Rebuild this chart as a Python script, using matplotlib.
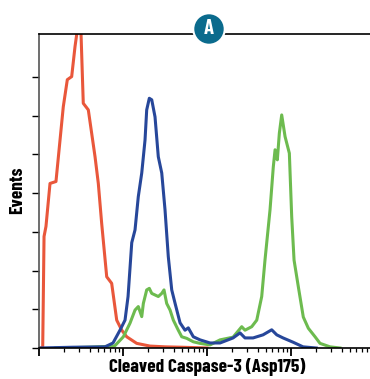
import numpy as np
import matplotlib
matplotlib.use('Agg')
import matplotlib.pyplot as plt

# 荧光强度（log10）和事件数（刻度单位）
red_x = [0.0, 0.03, 0.044, 0.060, 0.083, 0.131, 0.202, 0.289, 0.337, 0.389, 0.429, 0.468,
         0.496, 0.527, 0.587, 0.667, 0.706, 0.746, 0.806, 0.865, 0.925, 0.985, 1.044,
         1.163, 1.32, 1.5, 1.7, 2.0]
red_y = [0.0, 0.0, 0.0, 2.88, 3.14, 4.25, 4.30, 6.23, 6.93, 7.01, 7.79, 8.4,
         8.4, 6.32, 6.15, 4.94, 4.25, 3.22, 1.84, 1.67, 0.72, 0.46, 0.29,
         0.12, 0.05, 0.03, 0.02, 0.0]

blue_x = [0.0, 0.4, 0.786, 0.881, 0.964, 1.024, 1.060, 1.104, 1.143, 1.182, 1.223, 1.262,
          1.282, 1.313, 1.342, 1.381, 1.420, 1.461, 1.5, 1.539, 1.580, 1.619, 1.679,
          1.738, 1.777, 1.837, 1.917, 2.036, 2.155, 2.31, 2.393, 2.452, 2.548, 2.667,
          2.770, 2.830, 2.905, 3.024, 3.143, 3.3]
blue_y = [0.0, 0.02, 0.03, 0.13, 0.46, 0.72, 1.33, 2.72, 3.05, 3.91, 4.52, 5.37,
          6.15, 6.45, 6.41, 5.97, 4.94, 4.52, 3.57, 2.36, 1.5, 1.16, 0.65,
          0.46, 0.52, 0.29, 0.21, 0.13, 0.13, 0.26, 0.39, 0.26, 0.26, 0.34,
          0.47, 0.34, 0.26, 0.15, 0.03, 0.0]

green_x = [0.2, 0.6, 0.9, 1.004, 1.083, 1.143, 1.182, 1.223, 1.242, 1.282, 1.313, 1.342,
           1.381, 1.420, 1.461, 1.488, 1.520, 1.560, 1.599, 1.658, 1.699, 1.758, 1.837,
           1.917, 2.036, 2.155, 2.310, 2.413, 2.452, 2.532, 2.592, 2.651, 2.690, 2.75,
           2.789, 2.81, 2.837, 2.861, 2.889, 2.929, 2.980, 3.008, 3.036, 3.087, 3.146,
           3.206, 3.286, 3.345, 3.464, 3.583]
green_y = [0.0, 0.02, 0.05, 0.29, 0.64, 0.98, 1.07, 0.81, 1.15, 1.50, 1.54, 1.41,
           1.37, 1.33, 1.41, 1.50, 1.15, 0.98, 0.72, 0.46, 0.29, 0.25, 0.16,
           0.12, 0.08, 0.21, 0.28, 0.55, 0.46, 0.55, 0.72, 1.33, 2.27, 3.57,
           4.68, 5.12, 4.86, 5.55, 6.02, 5.46, 5.03, 3.39, 2.27, 1.58, 0.80,
           0.51, 0.29, 0.12, 0.03, 0.0]

fig = plt.figure(figsize=(3.70, 3.79), dpi=100)
ax = fig.add_axes([39 / 370, 1 - 348 / 379, 331 / 370, 314 / 379])

lw = 2.2
ax.plot(10 ** np.array(red_x), red_y, color='#e9573b', lw=lw)
ax.plot(10 ** np.array(green_x), green_y, color='#6dbb4f', lw=lw)
ax.plot(10 ** np.array(blue_x), blue_y, color='#27479a', lw=lw)

ax.set_xscale('log')
ax.set_xlim(1, 10 ** 3.94)
ax.set_ylim(0, 8.11)
ax.set_xticks([1, 10, 100, 1000])
ax.set_yticks(range(0, 8))
ax.set_xticklabels([])
ax.set_yticklabels([])
ax.xaxis.set_minor_formatter(plt.NullFormatter())
ax.tick_params(axis='x', which='major', length=6, width=1.3, direction='out')
ax.tick_params(axis='x', which='minor', length=3, width=0.9, direction='out')
ax.tick_params(axis='y', length=5, width=1.0, direction='out')
ax.spines['right'].set_visible(False)
ax.spines['left'].set_color('#555555')
for s in ['top', 'bottom', 'left']:
    ax.spines[s].set_linewidth(1.2)

font = ['Barlow Condensed', 'DejaVu Sans']

fig.text(207 / 370, 1 - 367 / 379, 'Cleaved Caspase-3 (Asp175)', family=font,
         fontweight='bold', fontsize=13.8, ha='center', va='center')
fig.text(18 / 370, 1 - 190 / 379, 'Events', family=font, fontweight='bold',
         fontsize=13.8, rotation=90, ha='center', va='center')

# 标题圆圈
fig.text(209 / 370, 1 - 29 / 379, 'A', family=font, fontweight='bold', fontsize=15,
         color='white', ha='center', va='center',
         bbox=dict(boxstyle='circle,pad=0.3', fc='#0b6b8d', ec='white', lw=1.5))

fig.savefig('out.png', dpi=100)
